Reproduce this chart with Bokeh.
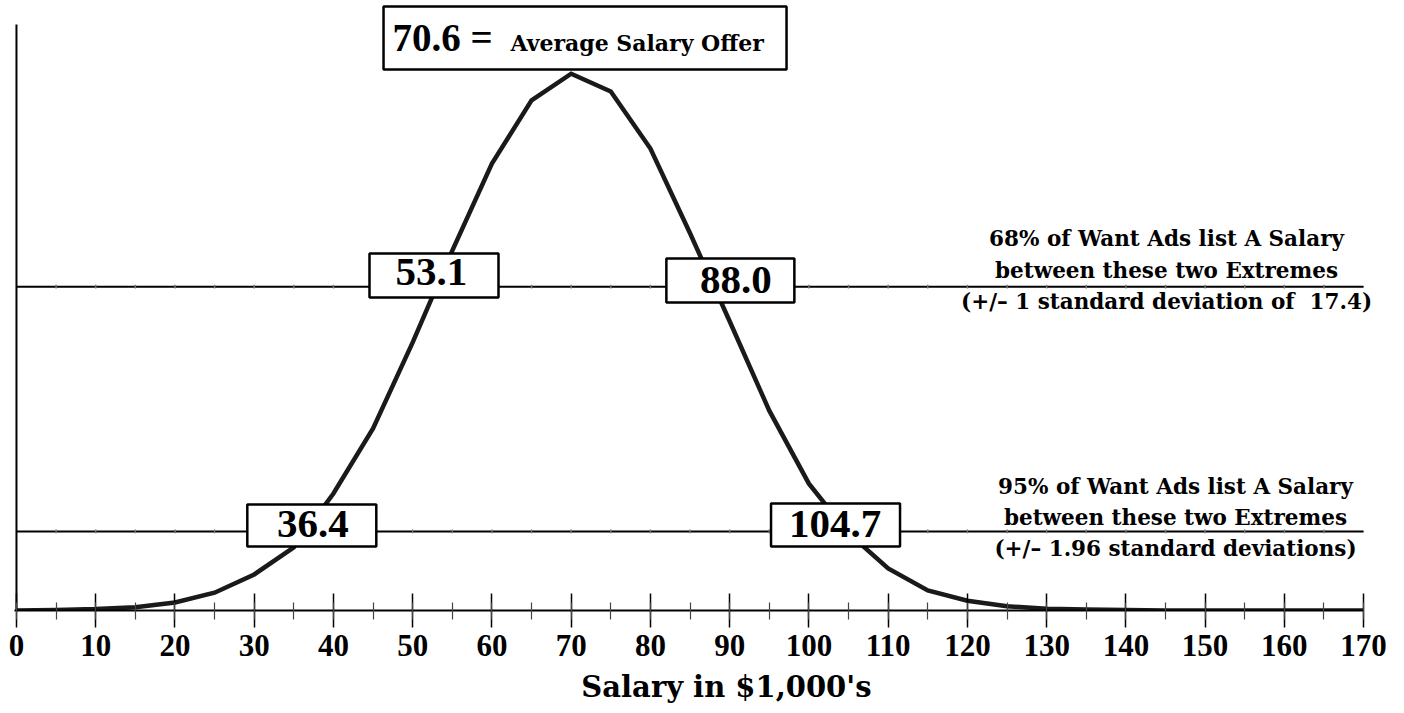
from bokeh.plotting import figure
from bokeh.models import Range1d, Label, FixedTicker, Title
from bokeh.embed import file_html
from bokeh.resources import INLINE

# ---------------- data ----------------
salary_k = [0, 5, 10, 15, 20, 25, 30, 35, 40, 45, 50, 55, 60, 65, 70, 75, 80, 85,
            90, 95, 100, 105, 110, 115, 120, 125, 130, 135, 140, 145, 150, 155, 160, 165, 170]
share_pct = [0.00, 0.01, 0.03, 0.07, 0.17, 0.38, 0.77, 1.35, 2.50, 3.89, 5.73, 7.69, 9.55,
             10.90, 11.47, 11.09, 9.87, 8.06, 6.18, 4.27, 2.71, 1.65, 0.90, 0.43, 0.21, 0.09,
             0.04, 0.02, 0.01, 0.00, 0.00, 0.00, 0.00, 0.00, 0.00]
mean_salary = 70.6
sd_salary = 17.4
one_sd_bounds = [53.1, 88.0]
two_sd_bounds = [36.4, 104.7]
band_levels = [6.92, 1.69]          # height of the 68% and 95% reference lines
x_ticks = [0, 10, 20, 30, 40, 50, 60, 70, 80, 90, 100, 110, 120, 130, 140, 150, 160, 170]
x_minor = [0, 5, 10, 15, 20, 25, 30, 35, 40, 45, 50, 55, 60, 65, 70, 75, 80, 85, 90, 95,
           100, 105, 110, 115, 120, 125, 130, 135, 140, 145, 150, 155, 160, 165, 170]

NUM_FONT = "Liberation Serif"
TXT_FONT = "DejaVu Serif"
PX_PER_UNIT_Y = 46.8      # frame height 610 px
BASE_PX = 610

p = figure(width=1404, height=713, x_range=Range1d(-0.5, 175.16), y_range=Range1d(0, 610 / PX_PER_UNIT_Y),
           output_backend="svg", toolbar_location=None, y_axis_location=None,
           min_border_left=12, min_border_right=0, min_border_top=0, min_border_bottom=103)
p.outline_line_color = None
p.grid.visible = False
p.background_fill_color = "white"
p.border_fill_color = "white"

ax = p.xaxis[0]
ax.bounds = (-0.3, 170)
ax.ticker = FixedTicker(ticks=x_ticks, minor_ticks=x_minor)
ax.major_tick_in = 17
ax.major_tick_out = 17
ax.minor_tick_in = 8
ax.minor_tick_out = 9
ax.axis_line_width = 2
ax.axis_line_color = "black"
ax.major_tick_line_width = 1.5
ax.major_tick_line_color = "black"
ax.minor_tick_line_width = 1.2
ax.minor_tick_line_color = "#444444"
ax.major_label_text_font = NUM_FONT
ax.major_label_text_font_size = "31px"
ax.major_label_text_font_style = "bold"
ax.major_label_text_color = "black"
ax.major_label_standoff = 7

# vertical axis line
p.segment(x0=[0], y0=[0], x1=[0], y1=[12.52], line_color="black", line_width=2)

# reference lines with tiny ticks
for lvl in band_levels:
    p.segment(x0=[0], y0=[lvl], x1=[170], y1=[lvl], line_color="black", line_width=2)
    tx = x_minor[1:-1]
    p.segment(x0=tx, y0=[lvl - 0.04] * len(tx), x1=tx, y1=[lvl + 0.04] * len(tx),
              line_color="#777777", line_width=1.5)

# curve
p.line(salary_k, share_pct, line_color="#1a1a1a", line_width=4.5, line_join="miter")

# boxes
bounds = one_sd_bounds + two_sd_bounds
box_dx = [-0.41, 2.09, 0.87, -1.34]
box_y = [7.158, 7.051, 1.816, 1.827]
box_w = [129, 128, 129, 129]
box_h = [44, 44, 42, 43]
box_x = [b + d for b, d in zip(bounds, box_dx)]
p.rect(x=box_x, y=box_y, width=box_w, height=box_h, width_units="screen", height_units="screen",
       fill_color="white", line_color="black", line_width=2.5)
# top mean box
p.rect(x=[mean_salary + 1.15], y=[12.233], width=[403], height=[63], width_units="screen",
       height_units="screen", fill_color="white", line_color="black", line_width=2.5)


def label(x, base_px, text, font, size, align="center", k=0.34):
    # Label's text is vertically centred on y; shift so the baseline lands on base_px
    y = (BASE_PX - base_px + k * size) / PX_PER_UNIT_Y
    p.add_layout(Label(x=x, y=y, text=text, text_font=font, text_font_size=f"{size}px",
                       text_font_style="bold", text_align=align, text_baseline="middle",
                       text_color="black"))


txt_dx = [-0.73, 2.80, 1.02, -1.40]
txt_base = [285, 293, 537, 537]
for b, d, bp in zip(bounds, txt_dx, txt_base):
    label(b + d, bp, f"{b:.1f}", NUM_FONT, 41, k=0.3375)

label(47.45, 50, f"{mean_salary:.1f} =", NUM_FONT, 39, align="left", k=0.3375)
label(62.34, 50, "Average Salary Offer", TXT_FONT, 22, align="left", k=0.346)

blocks = [
    (145.13, [245, 277, 308], ["68% of Want Ads list A Salary", "between these two Extremes",
                               f"(+/\u2013 1 standard deviation of\u00a0 {sd_salary})"]),
    (146.26, [493, 524, 555], ["95% of Want Ads list A Salary", "between these two Extremes",
                               "(+/\u2013 1.96 standard deviations)"]),
]
for xc, bases, lines in blocks:
    for bp, t in zip(bases, lines):
        label(xc, bp, t, TXT_FONT, 21.5, k=0.346)

title = Title(text="Salary in $1,000's", align="right", offset=533, standoff=18,
              text_font=TXT_FONT, text_font_size="29px", text_font_style="bold",
              text_color="black")
p.add_layout(title, "below")

open("out.html", "w").write(file_html(p, INLINE))
